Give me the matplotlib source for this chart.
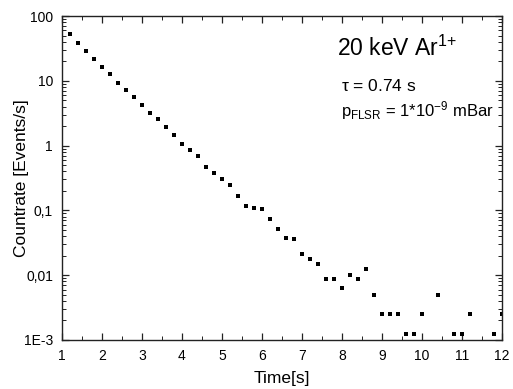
import matplotlib
matplotlib.use("Agg")
import matplotlib.pyplot as plt
from matplotlib.ticker import LogLocator, FixedLocator, MultipleLocator, NullFormatter

plt.rcParams['font.family'] = ['Liberation Sans', 'DejaVu Sans']
plt.rcParams['mathtext.fontset'] = 'custom'
plt.rcParams['mathtext.rm'] = 'Liberation Sans'
plt.rcParams['mathtext.it'] = 'Liberation Sans'

time_s = [1.2, 1.4, 1.6, 1.8, 2.0, 2.2, 2.4, 2.6, 2.8, 3.0,
          3.2, 3.4, 3.6, 3.8, 4.0, 4.2, 4.4, 4.6, 4.8, 5.0,
          5.2, 5.4, 5.6, 5.8, 6.0, 6.2, 6.4, 6.6, 6.8, 7.0,
          7.2, 7.4, 7.6, 7.8, 8.0, 8.2, 8.4, 8.6, 8.8, 9.0,
          9.2, 9.4, 9.6, 9.8, 10.0, 10.4, 10.8, 11.0, 11.2, 11.8, 12.0]
countrate = [52.7, 38.7, 28.8, 21.4, 16.1, 12.6, 9.35, 7.13, 5.56, 4.28,
             3.15, 2.57, 1.91, 1.47, 1.07, 0.845, 0.684, 0.468, 0.382, 0.305,
             0.244, 0.167, 0.118, 0.108, 0.105, 0.0745, 0.051, 0.0375, 0.03625, 0.02125,
             0.0175, 0.015, 0.00875, 0.00875, 0.00625, 0.01, 0.00875, 0.0125, 0.005, 0.0025,
             0.0025, 0.0025, 0.00125, 0.00125, 0.0025, 0.005, 0.00125, 0.00125, 0.0025, 0.00125, 0.0025]

ytick_vals = [1e-3, 1e-2, 1e-1, 1, 10, 100]
ytick_labels = ['1E-3', '0,01', '0,1', '1', '10', '100']
xtick_vals = list(range(1, 13))

fig = plt.figure(figsize=(5.13, 3.89), dpi=100)
ax = fig.add_axes([62/513, 1 - 340/389, 440/513, 324/389])

ax.plot(time_s, countrate, linestyle='none', marker='s', markersize=3.2,
        color='black', markeredgewidth=0)

ax.set_yscale('log')
ax.set_xlim(1, 12)
ax.set_ylim(1e-3, 100)

ax.xaxis.set_major_locator(FixedLocator(xtick_vals))
ax.xaxis.set_minor_locator(MultipleLocator(0.5))
ax.set_xticklabels([str(v) for v in xtick_vals])
ax.yaxis.set_major_locator(FixedLocator(ytick_vals))
ax.set_yticklabels(ytick_labels)
ax.yaxis.set_minor_locator(LogLocator(base=10, subs=range(2, 10), numticks=20))
ax.yaxis.set_minor_formatter(NullFormatter())

ax.tick_params(which='both', direction='in', top=True, right=True, color='#222222')
ax.tick_params(which='major', length=5, width=0.9, labelsize=10, pad=6.5)
ax.tick_params(which='minor', length=3, width=0.7)
for s in ax.spines.values():
    s.set_linewidth(1.0)
    s.set_color('#222222')

ax.set_xlabel('Time[s]', fontsize=12.5, va='top')
ax.set_ylabel('Countrate [Events/s]', fontsize=12.5)
ax.xaxis.set_label_coords(0.5, -0.095)
ax.yaxis.set_label_coords(-0.074, 0.5)

ax.text(0.625, 0.90, r'20 keV Ar$^{1{+}}$', transform=ax.transAxes, fontsize=16.5,
        ha='left', va='center')
ax.text(0.635, 0.784, r'$\tau$ = 0.74 s', transform=ax.transAxes, fontsize=12.5,
        ha='left', va='center')
ax.text(0.635, 0.708, r'p$_{\mathrm{FLSR}}$ = 1*10$^{\mathrm{{-}9}}$ mBar', transform=ax.transAxes,
        fontsize=12, ha='left', va='center')

fig.savefig('out.png', dpi=100)
